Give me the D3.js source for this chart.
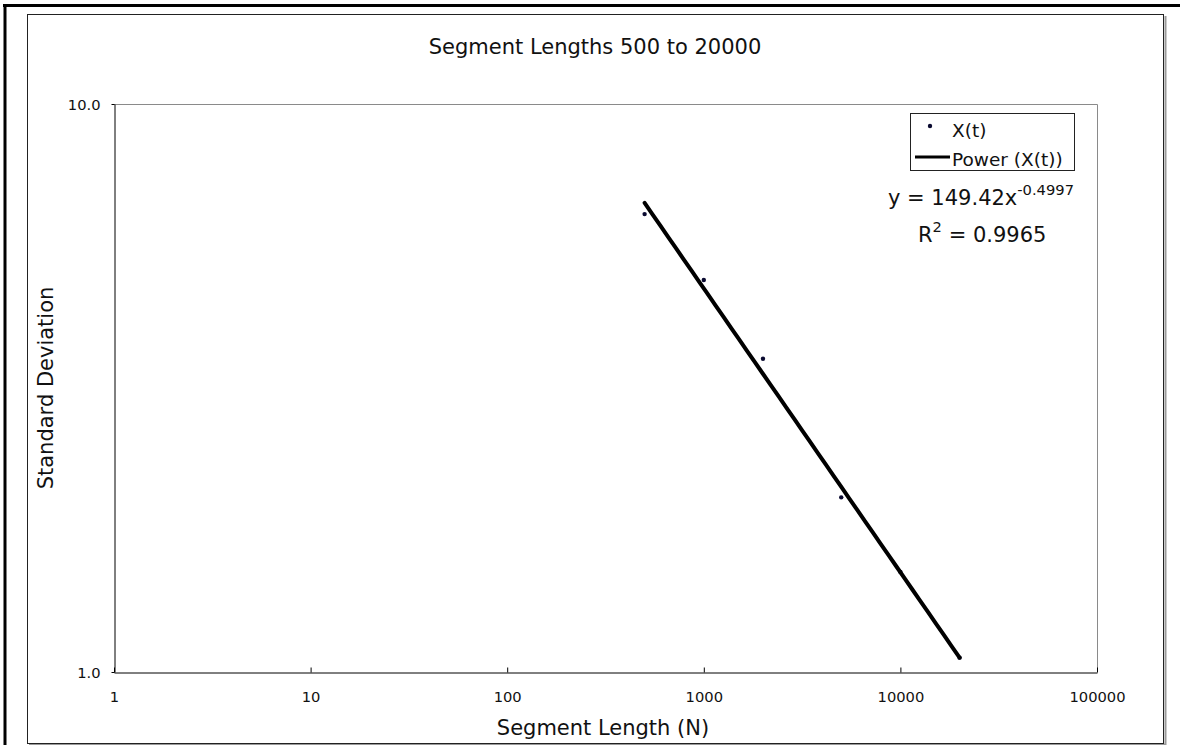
<!DOCTYPE html>
<html>
<head>
<meta charset="utf-8">
<script src="https://cdn.jsdelivr.net/npm/d3@7"></script>
<style>
  html, body { margin: 0; padding: 0; background: #fff; }
  svg { display: block; font-family: "DejaVu Sans", Verdana, sans-serif; }
</style>
</head>
<body>
<svg id="chart" width="1180" height="745"></svg>
<script>
// Segment length N versus standard deviation of X(t)
const segmentLengths = [500, 1000, 2000, 5000, 10000, 20000];
const stdDevs        = [6.40, 4.90, 3.56, 2.03, 1.50, 1.06];

// Power trendline y = a * x^b
const fitA = 149.42;
const fitB = -0.4997;
const fitR2 = 0.9965;

const xTickValues = [1, 10, 100, 1000, 10000, 100000];
const yTickValues = [1, 10];

const titleText = "Segment Lengths 500 to 20000";
const xTitle = "Segment Length (N)";
const yTitle = "Standard Deviation";
const seriesName = "X(t)";
const trendName = "Power (X(t))";

const svg = d3.select("#chart");

// outer frame
svg.append("line").attr("x1", 3).attr("x2", 1180).attr("y1", 5.5).attr("y2", 5.5)
  .attr("stroke", "#000").attr("stroke-width", 3);
svg.append("line").attr("x1", 5).attr("x2", 5).attr("y1", 4).attr("y2", 745)
  .attr("stroke", "#000").attr("stroke-width", 3);

// chart area with shadow
svg.append("line").attr("x1", 1165.5).attr("x2", 1165.5).attr("y1", 16).attr("y2", 745)
  .attr("stroke", "#9a9a9a").attr("stroke-width", 2);
svg.append("line").attr("x1", 29).attr("x2", 1166).attr("y1", 744.5).attr("y2", 744.5)
  .attr("stroke", "#9a9a9a").attr("stroke-width", 2);
svg.append("rect").attr("x", 27.5).attr("y", 14.5).attr("width", 1136).attr("height", 729)
  .attr("fill", "none").attr("stroke", "#222").attr("stroke-width", 1);

const plot = { left: 114, right: 1097, top: 104, bottom: 672 };

const x = d3.scaleLog().domain([1, 100000]).range([plot.left, plot.right]);
const y = d3.scaleLog().domain([1, 10]).range([plot.bottom, plot.top]);

// plot frame (top and right)
svg.append("path")
  .attr("d", `M${plot.left},${plot.top + 0.5}H${plot.right + 0.5}V${plot.bottom}`)
  .attr("fill", "none").attr("stroke", "#8a8a8a").attr("stroke-width", 1);

// x axis
const xAxis = d3.axisBottom(x).tickValues(xTickValues).tickSizeInner(-5).tickSizeOuter(0)
  .tickFormat(d3.format("d"));
const gx = svg.append("g").attr("transform", `translate(0,${plot.bottom + 0.5})`).call(xAxis);
gx.select(".domain").attr("stroke", "#000");
gx.selectAll(".tick line").attr("stroke", "#000");
gx.selectAll(".tick text").attr("font-size", "14.7px").attr("fill", "#111")
  .attr("font-family", "DejaVu Sans").attr("dy", null).attr("y", 29.5);

// y axis
const yAxis = d3.axisLeft(y).tickValues(yTickValues).tickSizeInner(3).tickSizeOuter(0)
  .tickFormat(d3.format(".1f"));
const gy = svg.append("g").attr("transform", `translate(${plot.left + 0.5},0)`).call(yAxis);
gy.select(".domain").attr("stroke", "#000");
gy.selectAll(".tick line").attr("stroke", "#000");
gy.selectAll(".tick text").attr("font-size", "14.7px").attr("fill", "#111")
  .attr("font-family", "DejaVu Sans").attr("x", -14).attr("dy", "0.36em");

// data points
svg.append("g").selectAll("circle")
  .data(segmentLengths.map((n, i) => ({ n, s: stdDevs[i] })))
  .join("circle")
  .attr("cx", d => x(d.n)).attr("cy", d => y(d.s))
  .attr("r", 2.2).attr("fill", "#0a0a30");

// power trendline over the data range
const xExtent = d3.extent(segmentLengths);
const trend = d3.range(0, 41).map(i => {
  const lx = Math.log10(xExtent[0]) + (Math.log10(xExtent[1]) - Math.log10(xExtent[0])) * i / 40;
  const n = Math.pow(10, lx);
  return [n, fitA * Math.pow(n, fitB)];
});
svg.append("path")
  .datum(trend)
  .attr("d", d3.line().x(d => x(d[0])).y(d => y(d[1])))
  .attr("fill", "none").attr("stroke", "#000").attr("stroke-width", 4)
  .attr("stroke-linecap", "round").attr("stroke-linejoin", "round");

// titles
svg.append("text").attr("x", 595).attr("y", 54).attr("text-anchor", "middle")
  .attr("font-size", "21px").attr("fill", "#111").text(titleText);
svg.append("text").attr("x", 603).attr("y", 735).attr("text-anchor", "middle")
  .attr("font-size", "21px").attr("fill", "#111").text(xTitle);
svg.append("text").attr("transform", "translate(53,388) rotate(-90)")
  .attr("text-anchor", "middle").attr("font-size", "21px").attr("fill", "#111").text(yTitle);

// legend
const lg = svg.append("g");
lg.append("rect").attr("x", 910.5).attr("y", 113.5).attr("width", 164).attr("height", 57)
  .attr("fill", "#fff").attr("stroke", "#222").attr("stroke-width", 1);
lg.append("circle").attr("cx", 930).attr("cy", 126).attr("r", 2.2).attr("fill", "#0a0a30");
lg.append("text").attr("x", 952).attr("y", 137).attr("font-size", "18.5px").attr("fill", "#111")
  .text(seriesName);
lg.append("line").attr("x1", 915).attr("x2", 950).attr("y1", 157).attr("y2", 157)
  .attr("stroke", "#000").attr("stroke-width", 3);
lg.append("text").attr("x", 952).attr("y", 166).attr("font-size", "18.5px").attr("fill", "#111")
  .text(trendName);

// trendline equation and R squared
const eq = svg.append("text").attr("x", 888).attr("y", 205).attr("font-size", "21px").attr("fill", "#111");
eq.append("tspan").text(`y = ${fitA.toFixed(2)}x`);
eq.append("tspan").attr("dy", -10).attr("font-size", "14.7px").text(fitB.toFixed(4));

const r2 = svg.append("text").attr("x", 918).attr("y", 242).attr("font-size", "21px").attr("fill", "#111");
r2.append("tspan").text("R");
r2.append("tspan").attr("dy", -10).attr("font-size", "14.7px").text("2");
r2.append("tspan").attr("dy", 10).text(` = ${fitR2.toFixed(4)}`);
</script>
</body>
</html>
